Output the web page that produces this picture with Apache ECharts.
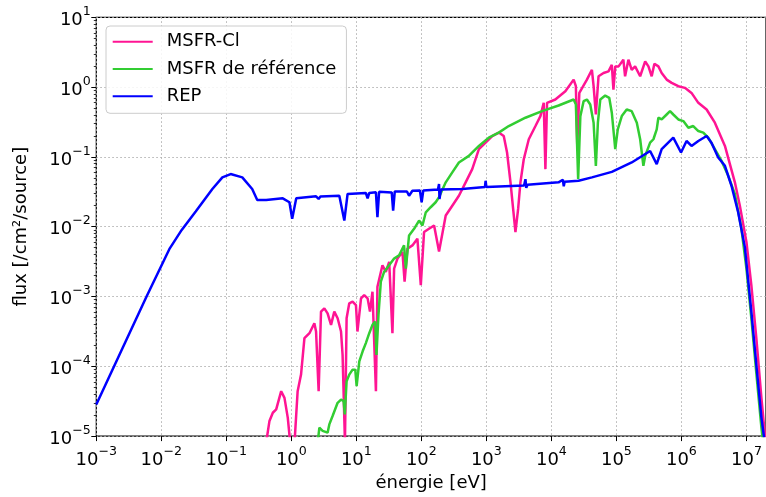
<!DOCTYPE html>
<html>
<head>
<meta charset="utf-8">
<script src="https://cdn.jsdelivr.net/npm/echarts@6/dist/echarts.min.js"></script>
<style>
html,body{margin:0;padding:0;background:#fff;}
#chart{width:766px;height:497px;}
</style>
</head>
<body>
<div id="chart"></div>
<script>
// ---------- data ----------
const seriesNames = ['MSFR-Cl', 'MSFR de référence', 'REP'];

const energyMSFRCl = [0.41, 0.461, 0.519, 0.585, 0.698, 0.784, 0.881, 0.96, 1.12, 1.25, 1.41, 1.59, 1.90, 2.26, 2.40, 2.63, 2.86, 3.22, 3.61, 4.08, 4.58, 5.15, 5.81, 6.14, 6.68, 7.08, 7.78, 8.75, 9.86, 10.4, 11.8, 13.2, 14.9, 16.2, 17.7, 20.0, 21.1, 25.2, 28.4, 32.0, 35.9, 38.1, 42.9, 51.2, 55.2, 61, 72.8, 86.9, 98, 110, 131, 157, 187, 237, 299, 378, 480, 606, 767, 973, 1230, 1550, 1850, 2080, 2350, 2580, 2800, 3080, 3340, 3760, 4490, 5690, 6780, 7620, 8090, 8570, 1.15e4, 1.64e4, 2.2e4, 2.38e4, 2.5e4, 2.69e4, 3.52e4, 4.2e4, 4.46e4, 4.83e4, 5.31e4, 6.34e4, 7.56e4, 8.5e4, 9.0e4, 9.6e4, 1.08e5, 1.28e5, 1.36e5, 1.53e5, 1.72e5, 1.94e5, 2.32e5, 2.77e5, 3.11e5, 3.49e5, 3.84e5, 4.42e5, 4.97e5, 5.93e5, 7.08e5, 8.96e5, 1.13e6, 1.43e6, 1.82e6, 2.44e6, 3.27e6, 4.67e6, 6.64e6, 7.92e6, 1.0e7, 1.19e7, 1.42e7, 1.70e7, 1.94e7];
const fluxMSFRCl = [8.1e-6, 1.65e-5, 2.16e-5, 2.41e-5, 4.4e-5, 3.53e-5, 1.84e-5, 8.1e-6, 8.1e-6, 4.4e-5, 7.6e-5, 2.53e-4, 2.98e-4, 4.14e-4, 3.15e-4, 4.4e-5, 6.07e-4, 6.76e-4, 5.74e-4, 3.92e-4, 6.07e-4, 4.88e-4, 3.15e-4, 1.46e-4, 8.1e-6, 4.88e-4, 7.98e-4, 8.43e-4, 7.54e-4, 3.15e-4, 9.4e-4, 1.05e-3, 9.4e-4, 6.07e-4, 1.17e-3, 4.4e-5, 1.38e-3, 2.8e-3, 2.25e-3, 3.13e-3, 2.98e-4, 2.51e-3, 3.49e-3, 4.35e-3, 1.63e-3, 4.84e-3, 5.4e-3, 6.73e-3, 1.45e-3, 8.38e-3, 9.33e-3, 0.0104, 4.4e-3, 0.01445, 0.02, 0.0278, 0.0432, 0.0668, 0.129, 0.160, 0.199, 0.223, 0.199, 0.1156, 0.0432, 0.018, 8.38e-3, 0.018, 0.0432, 0.0927, 0.179, 0.277, 0.384, 0.595, 0.0668, 0.595, 0.664, 0.871, 1.28, 1.03, 0.1435, 0.826, 1.28, 1.77, 1.03, 0.405, 1.43, 1.59, 1.68, 2.09, 0.92, 1.98, 1.98, 2.47, 1.43, 2.47, 1.77, 1.98, 1.43, 2.33, 1.98, 1.43, 2.16, 1.98, 1.59, 1.28, 1.15, 1.03, 0.975, 0.826, 0.595, 0.478, 0.309, 0.1435, 0.0432, 0.02, 6.04e-3, 1.45e-3, 2.53e-4, 3.53e-5, 9.5e-6];

const energyMSFRRef = [2.54, 2.7, 3.03, 3.61, 3.84, 4.31, 5.15, 5.81, 6.37, 6.64, 7.08, 7.78, 8.75, 9.62, 10.1, 11.1, 12.5, 14.0, 15.8, 17.7, 19.5, 20.4, 21.9, 23.8, 26.7, 31.9, 38.1, 45.5, 54.2, 57.7, 64.7, 77.3, 92.2, 104, 117, 139, 166, 187, 237, 299, 378, 538, 767, 1090, 1550, 2210, 3990, 7180, 1.29e4, 2.2e4, 2.38e4, 2.58e4, 2.79e4, 3.13e4, 3.52e4, 3.96e4, 4.46e4, 4.83e4, 5.19e4, 5.65e4, 6.73e4, 7.76e4, 8.5e4, 9.6e4, 1.05e5, 1.21e5, 1.44e5, 1.72e5, 2.06e5, 2.32e5, 2.6e5, 2.77e5, 3.3e5, 3.71e5, 4.17e5, 4.42e5, 4.97e5, 5.93e5, 6.68e5, 7.5e5, 8.96e5, 1.07e6, 1.28e6, 1.52e6, 1.82e6, 2.17e6, 2.59e6, 3.27e6, 4.14e6, 5.25e6, 6.64e6, 8.38e6, 1.0e7, 1.19e7, 1.42e7, 1.70e7, 1.8e7];
const fluxMSFRRef = [8.1e-6, 1.32e-5, 1.19e-5, 1.12e-5, 1.47e-5, 1.94e-5, 3.0e-5, 3.34e-5, 3.17e-5, 2.05e-5, 6.1e-5, 7.6e-5, 8.95e-5, 8.95e-5, 5.19e-5, 1.18e-4, 1.64e-4, 2.15e-4, 2.98e-4, 3.92e-4, 4.38e-4, 1.46e-4, 5.43e-4, 1.63e-3, 2.25e-3, 2.8e-3, 3.49e-3, 3.89e-3, 5.4e-3, 2.51e-3, 7.5e-3, 9.33e-3, 0.01225, 0.0104, 0.0161, 0.019, 0.0224, 0.0264, 0.0432, 0.06, 0.0832, 0.1033, 0.1435, 0.189, 0.223, 0.277, 0.364, 0.452, 0.545, 0.664, 0.564, 0.0481, 0.384, 0.628, 0.664, 0.564, 0.309, 0.0745, 0.309, 0.664, 0.757, 0.702, 0.429, 0.129, 0.248, 0.384, 0.478, 0.452, 0.309, 0.179, 0.0745, 0.1033, 0.160, 0.179, 0.248, 0.364, 0.344, 0.405, 0.452, 0.405, 0.344, 0.326, 0.262, 0.277, 0.2345, 0.223, 0.189, 0.129, 0.0877, 0.0536, 0.0294, 9.33e-3, 2.51e-3, 4.88e-4, 8.0e-5, 1.32e-5, 8.1e-6];

const energyREP = [1e-3, 5.93e-3, 0.0135, 0.0206, 0.0338, 0.061, 0.0869, 0.1164, 0.176, 0.25, 0.299, 0.41, 0.738, 0.935, 1.03, 1.19, 2.4, 2.63, 2.8, 5.47, 6.53, 7.33, 14.0, 14.9, 15.8, 20.0, 21.1, 22.4, 35, 36.8, 39, 60, 64.7, 72.8, 95, 101, 107, 180, 187, 190, 200, 426, 950, 973, 1000, 3800, 3990, 4100, 4300, 1.29e4, 1.5e4, 1.55e4, 1.6e4, 2.62e4, 4.2e4, 8.5e4, 1.72e5, 3.3e5, 4.17e5, 4.97e5, 7.5e5, 9.86e5, 1.2e6, 1.43e6, 1.82e6, 2.44e6, 2.9e6, 3.68e6, 4.67e6, 5.89e6, 7.46e6, 9.45e6, 1.19e7, 1.42e7, 1.70e7, 1.87e7];
const fluxREP = [2.84e-5, 1e-3, 4.9e-3, 9.0e-3, 0.0165, 0.0347, 0.0509, 0.0568, 0.0509, 0.0347, 0.0242, 0.0242, 0.0255, 0.0224, 0.013, 0.0255, 0.0273, 0.025, 0.027, 0.0278, 0.01225, 0.0294, 0.0304, 0.0255, 0.0304, 0.0311, 0.0137, 0.0317, 0.031, 0.017, 0.032, 0.032, 0.0278, 0.0328, 0.033, 0.0224, 0.033, 0.034, 0.0408, 0.0249, 0.034, 0.0347, 0.037, 0.0455, 0.037, 0.039, 0.048, 0.036, 0.04, 0.0432, 0.047, 0.038, 0.044, 0.0455, 0.0509, 0.0611, 0.0832, 0.1216, 0.0787, 0.129, 0.189, 0.1156, 0.169, 0.1435, 0.169, 0.199, 0.160, 0.098, 0.0745, 0.0386, 0.0161, 5.1e-3, 6.07e-4, 1.05e-4, 1.84e-5, 9.5e-6];

const xMin = 1e-3, xMax = 2e7;
const yMin = 1e-5, yMax = 10;
// matplotlib-like minor ticks on the y axis (2..9 x 10^k)
const yMinorTicks = [];
for (let k = -5; k < 1; k++) for (let m = 2; m <= 9; m++) yMinorTicks.push(m * Math.pow(10, k));

// ---------- chart ----------
const FONT = "'DejaVu Sans', sans-serif";
const colors = ['#FF1493', '#32CD32', '#0000FF'];

function powLabel(v) {
  const l = Math.log10(v);
  const e = Math.round(l);
  if (Math.abs(l - e) > 1e-6) return '';
  const s = e < 0 ? '\u2212' + (-e) : String(e);
  return '{b|10}{s|' + s + '}';
}
const richLabel = {
  b: { fontSize: 18, fontFamily: FONT, color: '#000', lineHeight: 24, verticalAlign: 'bottom' },
  s: { fontSize: 12.6, fontFamily: FONT, color: '#000', lineHeight: 14, verticalAlign: 'top' }
};
const gridLine = { show: true, lineStyle: { color: '#b0b0b0', type: [1.5, 2.5], width: 1 } };

function pairs(xs, ys) { return xs.map((x, i) => [x, ys[i]]); }

const chart = echarts.init(document.getElementById('chart'), null, { renderer: 'canvas' });
chart.setOption({
  animation: false,
  backgroundColor: '#fff',
  grid: { left: 96.3, right: -2, top: 17.3, bottom: 58.3, show: true, borderColor: '#000', borderWidth: 1.2, backgroundColor: 'transparent' },
  legend: {
    data: seriesNames, orient: 'vertical', left: 106, top: 26,
    padding: [5.7, 10, 7, 5.7], itemWidth: 40, itemHeight: 20, itemGap: 7.3,
    itemStyle: { opacity: 0 },
    backgroundColor: 'rgba(255,255,255,0.85)', borderColor: '#cccccc', borderWidth: 1, borderRadius: 4,
    textStyle: { fontSize: 18, fontFamily: FONT, color: '#000', lineHeight: 20, padding: [0, 0, 0, 9] }
  },
  xAxis: {
    type: 'log', logBase: 10, min: xMin, max: xMax, interval: 1,
    name: 'énergie [eV]', nameLocation: 'middle', nameGap: 34,
    nameTextStyle: { fontSize: 18, fontFamily: FONT, color: '#000' },
    axisLine: { show: false },
    axisTick: { show: true, inside: false, length: 5, lineStyle: { color: '#000', width: 1 } },
    axisLabel: { formatter: powLabel, rich: richLabel, margin: 9, showMaxLabel: false },
    splitLine: gridLine, minorTick: { show: false }
  },
  yAxis: [{
    type: 'log', logBase: 10, min: yMin, max: yMax, interval: 1,
    name: 'flux [/cm²/source]', nameLocation: 'middle', nameGap: 66,
    nameTextStyle: { fontSize: 18, fontFamily: FONT, color: '#000' },
    axisLine: { show: false },
    axisTick: { show: true, inside: false, length: 5, lineStyle: { color: '#000', width: 1 } },
    axisLabel: { formatter: powLabel, rich: richLabel, margin: 5.5 },
    splitLine: gridLine
  }, {
    type: 'log', logBase: 10, min: yMin, max: yMax, position: 'left', offset: 0,
    axisLine: { show: false }, axisLabel: { show: false }, splitLine: { show: false },
    axisTick: { show: true, inside: false, length: 2.5, customValues: yMinorTicks, lineStyle: { color: '#000', width: 0.8 } }
  }],
  series: [
    { name: seriesNames[0], type: 'line', data: pairs(energyMSFRCl, fluxMSFRCl), showSymbol: false, symbol: 'none', lineStyle: { color: colors[0], width: 2.5 }, itemStyle: { color: colors[0] }, z: 2 },
    { name: seriesNames[1], type: 'line', data: pairs(energyMSFRRef, fluxMSFRRef), showSymbol: false, symbol: 'none', lineStyle: { color: colors[1], width: 2.5 }, itemStyle: { color: colors[1] }, z: 3 },
    { name: seriesNames[2], type: 'line', data: pairs(energyREP, fluxREP), showSymbol: false, symbol: 'none', lineStyle: { color: colors[2], width: 2.5 }, itemStyle: { color: colors[2] }, z: 4 }
  ]
});
</script>
</body>
</html>
